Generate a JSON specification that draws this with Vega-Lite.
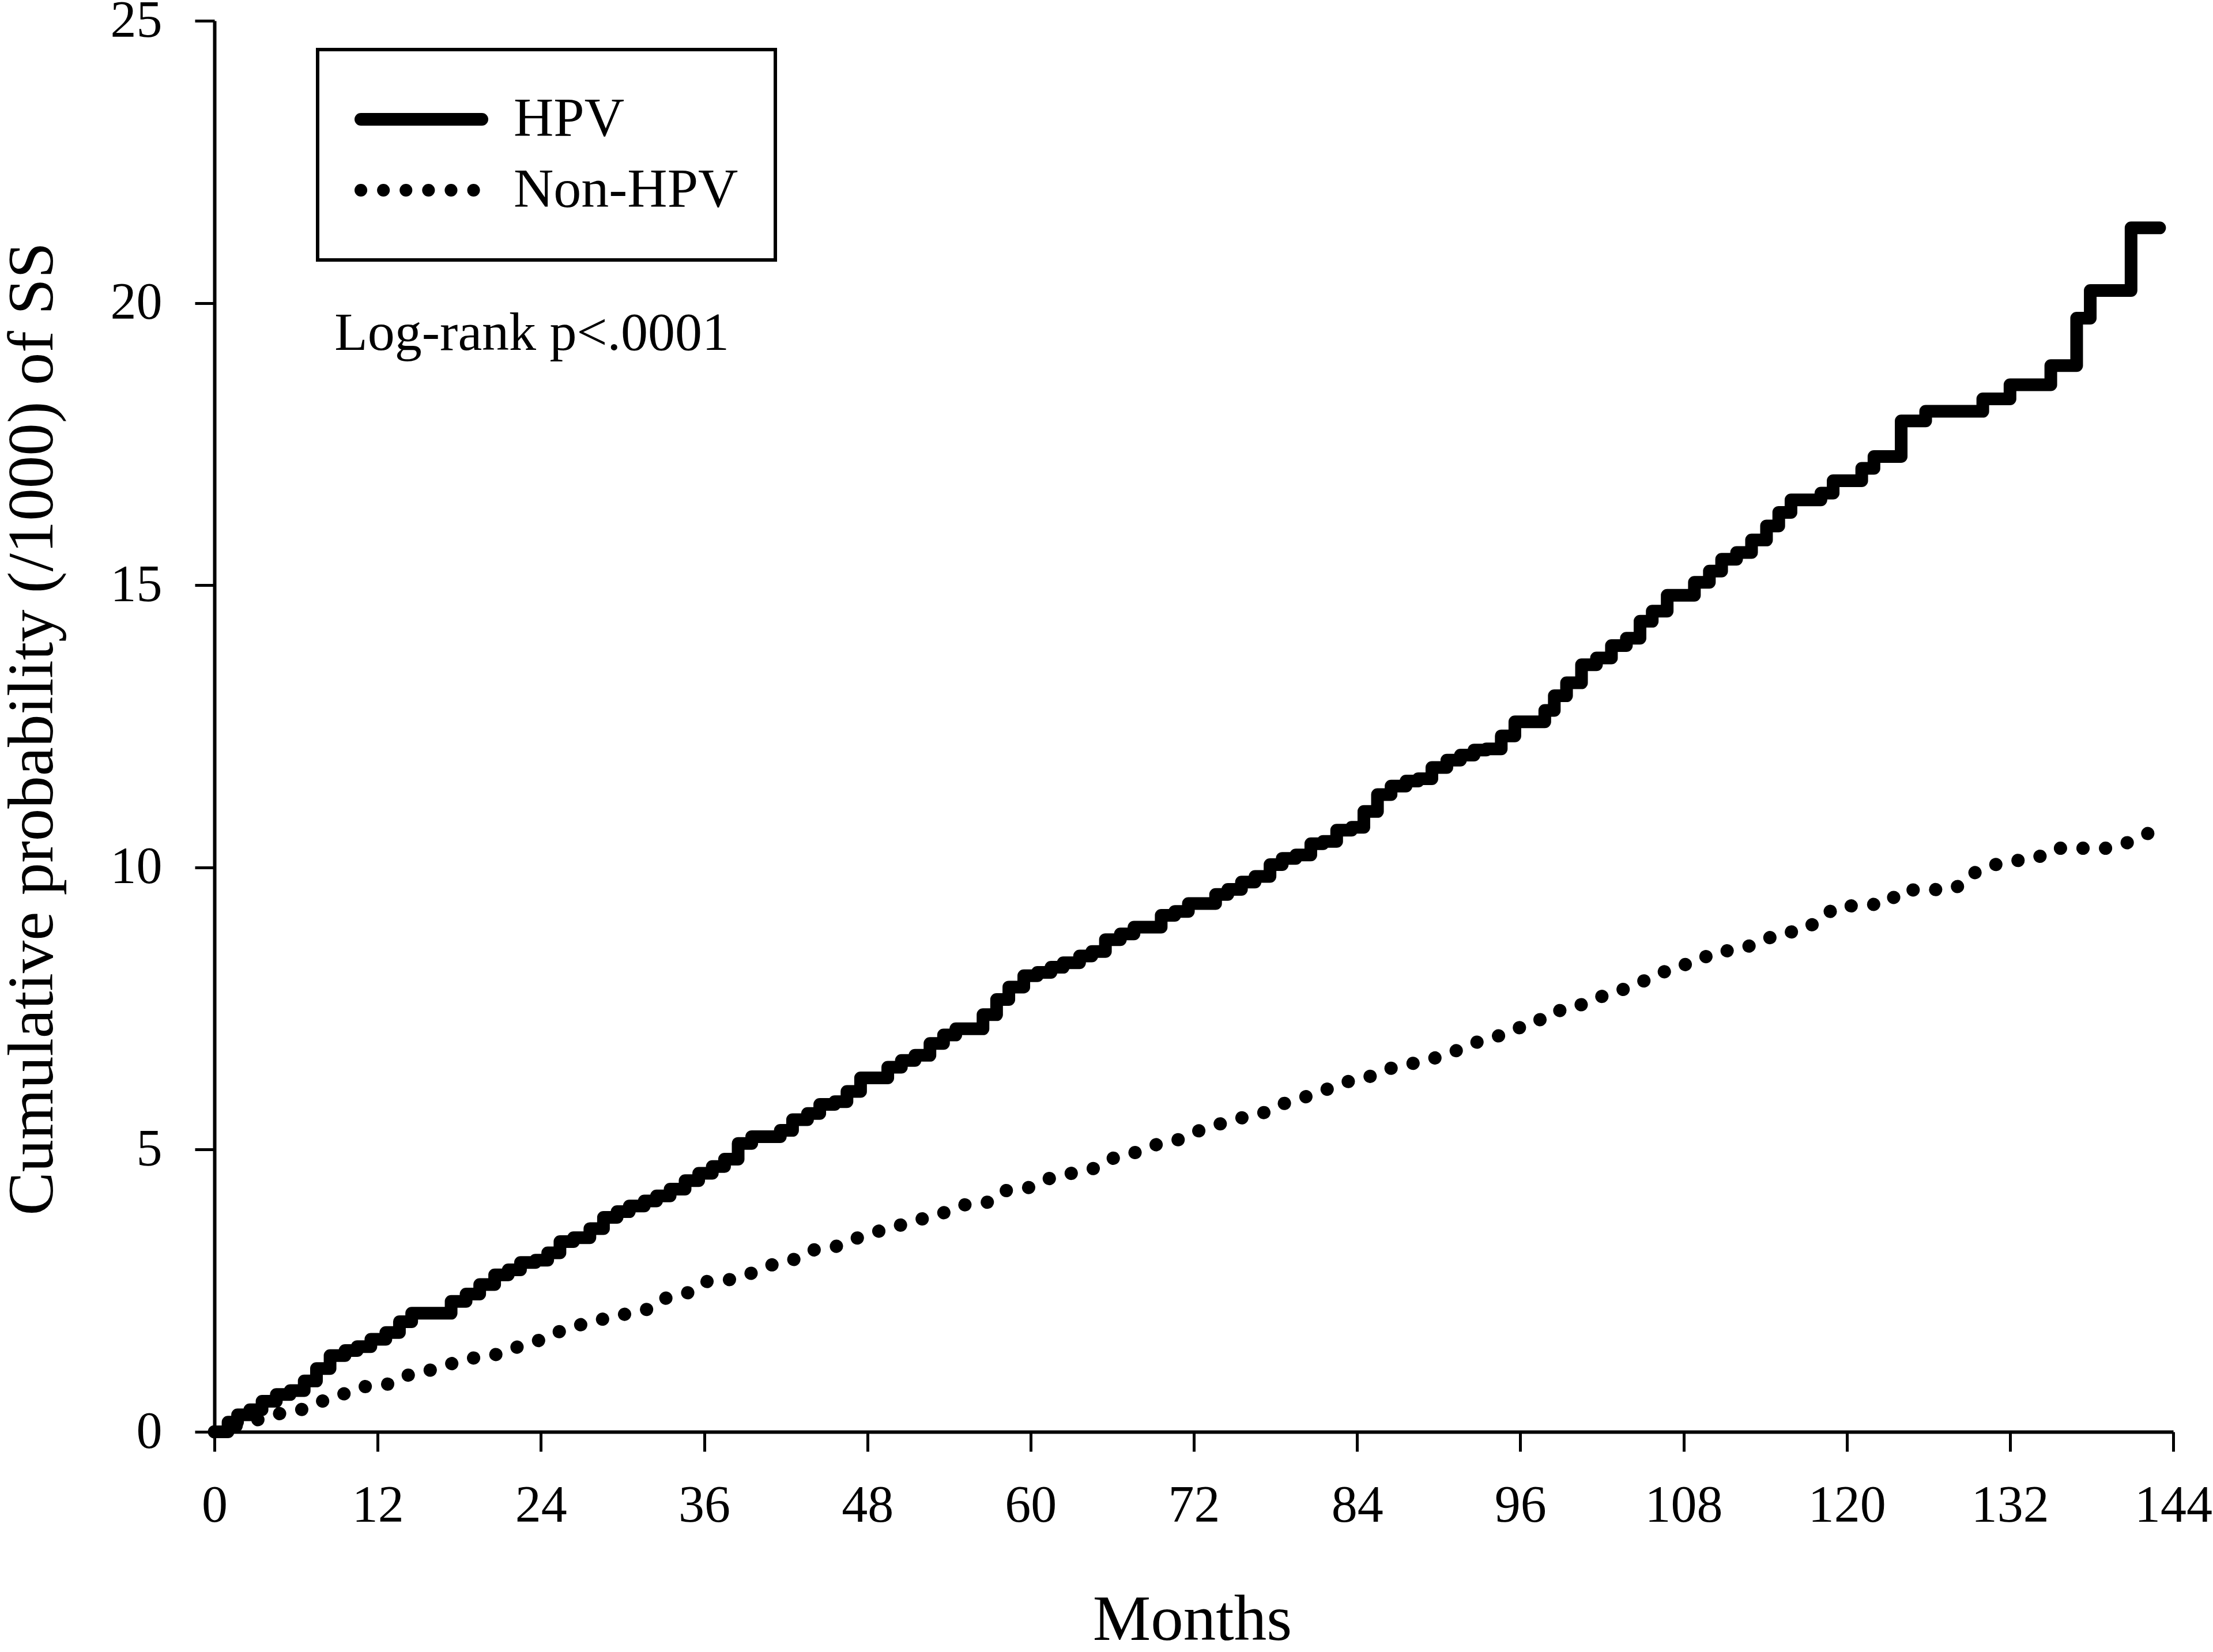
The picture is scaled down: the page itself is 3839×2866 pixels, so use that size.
{
  "$schema": "https://vega.github.io/schema/vega-lite/v6.json",
  "autosize": {"type": "none"},
  "padding": {"left": 372, "top": 36, "right": 69, "bottom": 382},
  "width": 3398,
  "height": 2448,
  "background": "white",
  "datasets": {
    "hpv": [
      {"m":0,"p":0,"g":"HPV"},{"m":1.0,"p":0.17,"g":"HPV"},{"m":1.7,"p":0.30,"g":"HPV"},{"m":2.6,"p":0.39,"g":"HPV"},{"m":3.5,"p":0.54,"g":"HPV"},{"m":4.55,"p":0.66,"g":"HPV"},{"m":5.57,"p":0.73,"g":"HPV"},{"m":6.6,"p":0.90,"g":"HPV"},{"m":7.5,"p":1.12,"g":"HPV"},{"m":8.5,"p":1.35,"g":"HPV"},{"m":9.6,"p":1.44,"g":"HPV"},{"m":10.5,"p":1.51,"g":"HPV"},{"m":11.5,"p":1.64,"g":"HPV"},{"m":12.6,"p":1.76,"g":"HPV"},{"m":13.6,"p":1.95,"g":"HPV"},{"m":14.5,"p":2.10,"g":"HPV"},{"m":17.4,"p":2.31,"g":"HPV"},{"m":18.5,"p":2.44,"g":"HPV"},{"m":19.5,"p":2.61,"g":"HPV"},{"m":20.6,"p":2.78,"g":"HPV"},{"m":21.6,"p":2.87,"g":"HPV"},{"m":22.5,"p":3.0,"g":"HPV"},{"m":23.6,"p":3.04,"g":"HPV"},{"m":24.5,"p":3.17,"g":"HPV"},{"m":25.4,"p":3.37,"g":"HPV"},{"m":26.4,"p":3.44,"g":"HPV"},{"m":27.6,"p":3.60,"g":"HPV"},{"m":28.6,"p":3.80,"g":"HPV"},{"m":29.6,"p":3.90,"g":"HPV"},{"m":30.5,"p":4.0,"g":"HPV"},{"m":31.6,"p":4.09,"g":"HPV"},{"m":32.5,"p":4.18,"g":"HPV"},{"m":33.5,"p":4.30,"g":"HPV"},{"m":34.6,"p":4.45,"g":"HPV"},{"m":35.6,"p":4.58,"g":"HPV"},{"m":36.6,"p":4.70,"g":"HPV"},{"m":37.5,"p":4.83,"g":"HPV"},{"m":38.5,"p":5.11,"g":"HPV"},{"m":39.5,"p":5.23,"g":"HPV"},{"m":41.6,"p":5.34,"g":"HPV"},{"m":42.5,"p":5.53,"g":"HPV"},{"m":43.6,"p":5.64,"g":"HPV"},{"m":44.5,"p":5.80,"g":"HPV"},{"m":45.6,"p":5.85,"g":"HPV"},{"m":46.5,"p":6.03,"g":"HPV"},{"m":47.5,"p":6.27,"g":"HPV"},{"m":49.5,"p":6.46,"g":"HPV"},{"m":50.5,"p":6.58,"g":"HPV"},{"m":51.5,"p":6.67,"g":"HPV"},{"m":52.6,"p":6.88,"g":"HPV"},{"m":53.6,"p":7.03,"g":"HPV"},{"m":54.5,"p":7.14,"g":"HPV"},{"m":56.5,"p":7.39,"g":"HPV"},{"m":57.5,"p":7.66,"g":"HPV"},{"m":58.4,"p":7.88,"g":"HPV"},{"m":59.5,"p":8.08,"g":"HPV"},{"m":60.5,"p":8.14,"g":"HPV"},{"m":61.5,"p":8.23,"g":"HPV"},{"m":62.4,"p":8.31,"g":"HPV"},{"m":63.6,"p":8.43,"g":"HPV"},{"m":64.5,"p":8.51,"g":"HPV"},{"m":65.5,"p":8.72,"g":"HPV"},{"m":66.6,"p":8.82,"g":"HPV"},{"m":67.6,"p":8.94,"g":"HPV"},{"m":69.6,"p":9.15,"g":"HPV"},{"m":70.6,"p":9.22,"g":"HPV"},{"m":71.6,"p":9.36,"g":"HPV"},{"m":73.6,"p":9.52,"g":"HPV"},{"m":74.5,"p":9.61,"g":"HPV"},{"m":75.5,"p":9.74,"g":"HPV"},{"m":76.5,"p":9.84,"g":"HPV"},{"m":77.6,"p":10.05,"g":"HPV"},{"m":78.5,"p":10.16,"g":"HPV"},{"m":79.5,"p":10.22,"g":"HPV"},{"m":80.6,"p":10.42,"g":"HPV"},{"m":81.5,"p":10.46,"g":"HPV"},{"m":82.5,"p":10.66,"g":"HPV"},{"m":83.6,"p":10.71,"g":"HPV"},{"m":84.5,"p":10.99,"g":"HPV"},{"m":85.5,"p":11.29,"g":"HPV"},{"m":86.5,"p":11.44,"g":"HPV"},{"m":87.6,"p":11.53,"g":"HPV"},{"m":88.5,"p":11.57,"g":"HPV"},{"m":89.5,"p":11.77,"g":"HPV"},{"m":90.6,"p":11.90,"g":"HPV"},{"m":91.6,"p":11.99,"g":"HPV"},{"m":92.6,"p":12.08,"g":"HPV"},{"m":93.5,"p":12.10,"g":"HPV"},{"m":94.6,"p":12.33,"g":"HPV"},{"m":95.6,"p":12.58,"g":"HPV"},{"m":97.8,"p":12.78,"g":"HPV"},{"m":98.5,"p":13.04,"g":"HPV"},{"m":99.4,"p":13.27,"g":"HPV"},{"m":100.5,"p":13.59,"g":"HPV"},{"m":101.6,"p":13.71,"g":"HPV"},{"m":102.7,"p":13.93,"g":"HPV"},{"m":103.8,"p":14.06,"g":"HPV"},{"m":104.8,"p":14.36,"g":"HPV"},{"m":105.7,"p":14.54,"g":"HPV"},{"m":106.8,"p":14.82,"g":"HPV"},{"m":108.8,"p":15.05,"g":"HPV"},{"m":109.9,"p":15.25,"g":"HPV"},{"m":110.8,"p":15.46,"g":"HPV"},{"m":111.9,"p":15.58,"g":"HPV"},{"m":113.0,"p":15.80,"g":"HPV"},{"m":114.1,"p":16.05,"g":"HPV"},{"m":115.0,"p":16.29,"g":"HPV"},{"m":115.9,"p":16.51,"g":"HPV"},{"m":118.1,"p":16.63,"g":"HPV"},{"m":119.0,"p":16.85,"g":"HPV"},{"m":121.1,"p":17.07,"g":"HPV"},{"m":122.0,"p":17.28,"g":"HPV"},{"m":124.0,"p":17.91,"g":"HPV"},{"m":125.8,"p":18.08,"g":"HPV"},{"m":130.0,"p":18.30,"g":"HPV"},{"m":132.0,"p":18.55,"g":"HPV"},{"m":135.0,"p":18.89,"g":"HPV"},{"m":136.9,"p":19.73,"g":"HPV"},{"m":137.9,"p":20.22,"g":"HPV"},{"m":140.9,"p":21.33,"g":"HPV"},{"m":143.0,"p":21.33,"g":"HPV"}
    ],
    "non": [
      {"m":0,"p":0,"g":"Non-HPV"},{"m":4.9,"p":0.33,"g":"Non-HPV"},{"m":6.5,"p":0.40,"g":"Non-HPV"},{"m":8.0,"p":0.55,"g":"Non-HPV"},{"m":9.6,"p":0.68,"g":"Non-HPV"},{"m":11.0,"p":0.80,"g":"Non-HPV"},{"m":12.9,"p":0.85,"g":"Non-HPV"},{"m":14.3,"p":1.01,"g":"Non-HPV"},{"m":16.0,"p":1.10,"g":"Non-HPV"},{"m":17.6,"p":1.22,"g":"Non-HPV"},{"m":19.25,"p":1.32,"g":"Non-HPV"},{"m":21.0,"p":1.38,"g":"Non-HPV"},{"m":22.45,"p":1.52,"g":"Non-HPV"},{"m":24.0,"p":1.63,"g":"Non-HPV"},{"m":25.4,"p":1.78,"g":"Non-HPV"},{"m":26.95,"p":1.90,"g":"Non-HPV"},{"m":28.6,"p":2.0,"g":"Non-HPV"},{"m":30.3,"p":2.09,"g":"Non-HPV"},{"m":32.0,"p":2.18,"g":"Non-HPV"},{"m":33.2,"p":2.37,"g":"Non-HPV"},{"m":34.9,"p":2.47,"g":"Non-HPV"},{"m":36.1,"p":2.66,"g":"Non-HPV"},{"m":38.0,"p":2.70,"g":"Non-HPV"},{"m":39.6,"p":2.82,"g":"Non-HPV"},{"m":41.0,"p":2.96,"g":"Non-HPV"},{"m":42.7,"p":3.06,"g":"Non-HPV"},{"m":44.0,"p":3.22,"g":"Non-HPV"},{"m":45.8,"p":3.29,"g":"Non-HPV"},{"m":47.2,"p":3.43,"g":"Non-HPV"},{"m":48.9,"p":3.56,"g":"Non-HPV"},{"m":50.4,"p":3.66,"g":"Non-HPV"},{"m":52.0,"p":3.77,"g":"Non-HPV"},{"m":53.6,"p":3.88,"g":"Non-HPV"},{"m":55.1,"p":4.02,"g":"Non-HPV"},{"m":56.9,"p":4.07,"g":"Non-HPV"},{"m":58.1,"p":4.27,"g":"Non-HPV"},{"m":59.9,"p":4.33,"g":"Non-HPV"},{"m":61.4,"p":4.49,"g":"Non-HPV"},{"m":63.0,"p":4.58,"g":"Non-HPV"},{"m":64.7,"p":4.67,"g":"Non-HPV"},{"m":66.1,"p":4.85,"g":"Non-HPV"},{"m":67.6,"p":4.94,"g":"Non-HPV"},{"m":69.1,"p":5.08,"g":"Non-HPV"},{"m":70.8,"p":5.17,"g":"Non-HPV"},{"m":72.2,"p":5.32,"g":"Non-HPV"},{"m":73.7,"p":5.44,"g":"Non-HPV"},{"m":75.3,"p":5.55,"g":"Non-HPV"},{"m":77.1,"p":5.65,"g":"Non-HPV"},{"m":78.4,"p":5.80,"g":"Non-HPV"},{"m":79.9,"p":5.91,"g":"Non-HPV"},{"m":81.5,"p":6.04,"g":"Non-HPV"},{"m":83.0,"p":6.19,"g":"Non-HPV"},{"m":84.7,"p":6.27,"g":"Non-HPV"},{"m":86.1,"p":6.42,"g":"Non-HPV"},{"m":87.8,"p":6.51,"g":"Non-HPV"},{"m":89.4,"p":6.60,"g":"Non-HPV"},{"m":91.0,"p":6.72,"g":"Non-HPV"},{"m":92.4,"p":6.88,"g":"Non-HPV"},{"m":94.0,"p":6.97,"g":"Non-HPV"},{"m":95.4,"p":7.13,"g":"Non-HPV"},{"m":97.0,"p":7.22,"g":"Non-HPV"},{"m":98.2,"p":7.44,"g":"Non-HPV"},{"m":100.0,"p":7.50,"g":"Non-HPV"},{"m":101.2,"p":7.67,"g":"Non-HPV"},{"m":103.0,"p":7.77,"g":"Non-HPV"},{"m":104.3,"p":7.93,"g":"Non-HPV"},{"m":105.9,"p":8.05,"g":"Non-HPV"},{"m":107.2,"p":8.24,"g":"Non-HPV"},{"m":108.9,"p":8.31,"g":"Non-HPV"},{"m":110.2,"p":8.50,"g":"Non-HPV"},{"m":112.0,"p":8.54,"g":"Non-HPV"},{"m":113.6,"p":8.67,"g":"Non-HPV"},{"m":115.0,"p":8.83,"g":"Non-HPV"},{"m":116.8,"p":8.88,"g":"Non-HPV"},{"m":118.1,"p":9.09,"g":"Non-HPV"},{"m":119.2,"p":9.30,"g":"Non-HPV"},{"m":121.1,"p":9.33,"g":"Non-HPV"},{"m":123.0,"p":9.36,"g":"Non-HPV"},{"m":124.0,"p":9.60,"g":"Non-HPV"},{"m":126.1,"p":9.60,"g":"Non-HPV"},{"m":128.0,"p":9.63,"g":"Non-HPV"},{"m":129.1,"p":9.87,"g":"Non-HPV"},{"m":130.5,"p":10.03,"g":"Non-HPV"},{"m":132.2,"p":10.11,"g":"Non-HPV"},{"m":134.0,"p":10.17,"g":"Non-HPV"},{"m":135.3,"p":10.34,"g":"Non-HPV"},{"m":137.4,"p":10.34,"g":"Non-HPV"},{"m":139.4,"p":10.34,"g":"Non-HPV"},{"m":140.9,"p":10.46,"g":"Non-HPV"},{"m":142.3,"p":10.62,"g":"Non-HPV"}
    ],
    "note": [{"m": 8.83, "p": 19.17, "t": "Log-rank p<.0001"}]
  },
  "layer": [
    {
      "data": {"name": "non"},
      "mark": {"type": "line", "color": "black", "strokeWidth": 23, "strokeCap": "round", "interpolate": "linear"},
      "encoding": {
        "x": {
          "field": "m", "type": "quantitative",
          "scale": {"domain": [0, 144], "nice": false, "zero": true},
          "axis": {
            "title": "Months", "values": [0,12,24,36,48,60,72,84,96,108,120,132,144], "format": "d",
            "labelFlush": false, "labelOverlap": false, "labelPadding": 50,
            "titleX": 1696, "titleY": 360, "titleBaseline": "alphabetic", "titleAlign": "center"
          }
        },
        "y": {
          "field": "p", "type": "quantitative",
          "scale": {"domain": [0, 25], "nice": false},
          "axis": {
            "title": "Cumulative probability (/1000) of SS", "values": [0,5,10,15,20,25], "format": "d",
            "labelPadding": 57, "labelFlush": false, "labelOverlap": false,
            "titleX": -282, "titleY": 1228, "titleAngle": -90, "titleBaseline": "alphabetic", "titleAlign": "center"
          }
        },
        "strokeDash": {
          "field": "g", "type": "nominal",
          "scale": {"domain": ["HPV", "Non-HPV"], "range": [[1, 0], [0.1, 39]]},
          "legend": {
            "title": null, "orient": "none", "legendX": 179, "legendY": 50,
            "strokeColor": "black", "padding": 64,
            "symbolType": "stroke", "symbolSize": 44100, "symbolStrokeWidth": 22,
            "symbolStrokeColor": "black", "symbolFillColor": "transparent",
            "labelFont": "Liberation Serif", "labelFontSize": 96, "labelColor": "black",
            "labelOffset": 44, "labelLimit": 2000, "clipHeight": 114, "rowPadding": 9,
            "encode": {
              "legend": {"update": {"strokeWidth": {"value": 6}}},
              "symbols": {"update": {"strokeCap": {"value": "round"}}}
            }
          }
        }
      }
    },
    {
      "data": {"name": "hpv"},
      "mark": {"type": "line", "color": "black", "strokeWidth": 22, "strokeCap": "round", "strokeJoin": "round", "interpolate": "step-after"},
      "encoding": {
        "x": {"field": "m", "type": "quantitative"},
        "y": {"field": "p", "type": "quantitative"},
        "strokeDash": {"field": "g", "type": "nominal"}
      }
    },
    {
      "data": {"name": "note"},
      "mark": {"type": "text", "font": "Liberation Serif", "fontSize": 94, "align": "left", "baseline": "alphabetic", "color": "black"},
      "encoding": {
        "x": {"field": "m", "type": "quantitative"},
        "y": {"field": "p", "type": "quantitative"},
        "text": {"field": "t", "type": "nominal"}
      }
    }
  ],
  "config": {
    "view": {"stroke": null},
    "font": "Liberation Serif",
    "axis": {
      "grid": false, "domainColor": "black", "domainWidth": 6,
      "tickColor": "black", "tickWidth": 5, "tickSize": 34,
      "labelFont": "Liberation Serif", "labelFontSize": 90, "labelColor": "black",
      "titleFont": "Liberation Serif", "titleFontSize": 113, "titleFontWeight": "normal", "titleColor": "black"
    }
  }
}
